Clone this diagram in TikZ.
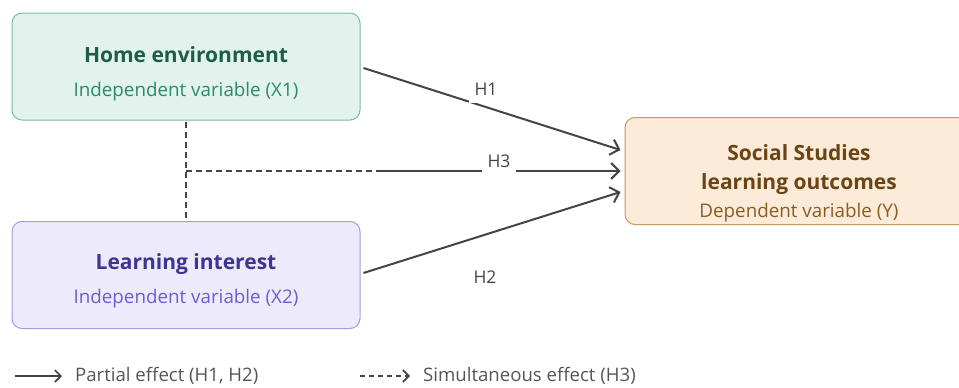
\documentclass[tikz,border=0pt]{standalone}
\usepackage{fontspec}
\setmainfont{Open Sans}
\usetikzlibrary{arrows.meta}
\definecolor{gfill}{HTML}{E1F3EC}
\definecolor{gline}{HTML}{7DBBA5}
\definecolor{gtitle}{HTML}{1E5E48}
\definecolor{gsub}{HTML}{2A8A6E}
\definecolor{pfill}{HTML}{EDEBFB}
\definecolor{pline}{HTML}{A49CE4}
\definecolor{ptitle}{HTML}{3D3494}
\definecolor{psub}{HTML}{6A5ED0}
\definecolor{ofill}{HTML}{FBEBD8}
\definecolor{oline}{HTML}{C4996A}
\definecolor{otitle}{HTML}{6B4414}
\definecolor{osub}{HTML}{8C5B24}
\definecolor{arr}{HTML}{444444}
\definecolor{legtext}{HTML}{555555}
\tikzset{
  box/.style={draw, line width=1pt, rounded corners=10pt, minimum width=348pt, minimum height=107pt, inner sep=0pt},
  ttl/.style={font=\fontsize{21}{29}\selectfont\bfseries, inner sep=0pt, align=center},
  sub/.style={font=\fontsize{18.8}{22}\selectfont, inner sep=0pt},
  conn/.style={draw=arr, line width=2pt, -{Straight Barb[length=8pt,width=16pt,line width=2pt]}},
  hlab/.style={font=\fontsize{17.5}{20}\selectfont, text=arr, fill=white, inner xsep=6pt, inner ysep=0pt},
  dashline/.style={draw=arr, line width=1.6pt, dash pattern=on 6pt off 4pt},
  legtxt/.style={font=\fontsize{18.6}{22}\selectfont, text=legtext, anchor=west, inner sep=0pt}
}
\begin{document}
\begin{tikzpicture}[x=1pt,y=1pt]
\useasboundingbox (0,0) rectangle (959,-388);
% boxes
\node[box, fill=gfill, draw=gline] (home) at (186,-66.5) {};
\node[ttl, text=gtitle] (hometitle) at (186,-55) {Home environment};
\node[sub, text=gsub] (homesub) at (186,-92) {Independent variable (X1)};
\node[box, fill=pfill, draw=pline] (int) at (186,-275) {};
\node[ttl, text=ptitle] (inttitle) at (186,-264) {Learning interest};
\node[sub, text=psub] (intsub) at (186,-299) {Independent variable (X2)};
\node[box, fill=ofill, draw=oline] (soc) at (799,-171) {};
\node[ttl, text=otitle] (soctitle) at (799,-170) {Social Studies\\learning outcomes};
\node[sub, text=osub] (socsub) at (799,-213) {Dependent variable (Y)};
% H3 dashed
\coordinate (j) at (home.south |- soc.west);
\coordinate (m) at (377,-171);
\draw[dashline] ([yshift=-1pt]home.south) -- ([yshift=3pt]int.north);
\draw[dashline] (j) -- (m);
\draw[conn] (m) -- ([xshift=-4pt]soc.west);
% H1, H2
\draw[conn] ([xshift=3pt,yshift=-1.5pt]home.east) -- ([xshift=-4pt,yshift=21pt]soc.west);
\draw[conn] ([xshift=3pt,yshift=2pt]int.east) -- ([xshift=-4pt,yshift=-21pt]soc.west);
% labels
\node[hlab, minimum height=27pt] (h1) at (486,-89) {H1};
\node[hlab, minimum height=26pt] (h3) at (499,-161) {H3};
\node[hlab, fill=none] (h2) at (485,-277) {H2};
% legend
\coordinate (la) at (15,-376);
\coordinate (lb) at (62,-376);
\draw[draw=arr, line width=1.6pt, -{Straight Barb[length=6pt,width=12pt,line width=1.6pt]}] (la) -- (lb);
\node[legtxt] (leg1) at (75,-376) {Partial effect (H1, H2)};
\coordinate (lc) at (360,-376);
\coordinate (ld) at (410,-376);
\draw[draw=arr, line width=1.6pt, dash pattern=on 5pt off 4pt, -{Straight Barb[length=6pt,width=12pt,line width=1.6pt]}] (lc) -- (ld);
\node[legtxt] (leg2) at (423,-376) {Simultaneous effect (H3)};
\end{tikzpicture}
\end{document}
